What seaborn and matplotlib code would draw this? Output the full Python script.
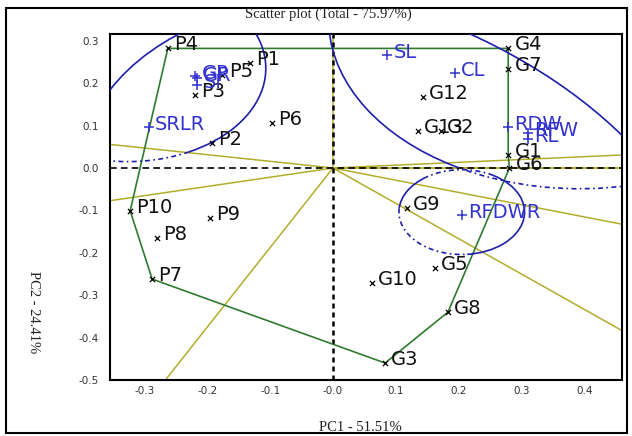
import matplotlib
matplotlib.use("Agg")
import numpy as np
import pandas as pd
import matplotlib.pyplot as plt
import seaborn as sns
from matplotlib.patches import Arc, Rectangle

# ---------------- data ----------------
title = "Scatter plot (Total - 75.97%)"
x_label = "PC1 - 51.51%"
y_label = "PC2 - 24.41%"

point_names = ["P1", "P2", "P3", "P4", "P5", "P6", "P7", "P8", "P9", "P10",
               "G1", "G2", "G3", "G4", "G5", "G6", "G7", "G8", "G9", "G10", "G12", "G13"]
point_x = [-0.132, -0.193, -0.220, -0.263, -0.176, -0.097, -0.288, -0.280, -0.196, -0.323,
           0.279, 0.172, 0.083, 0.279, 0.162, 0.281, 0.279, 0.183, 0.118, 0.062, 0.143, 0.135]
point_y = [0.248, 0.059, 0.172, 0.282, 0.219, 0.106, -0.262, -0.165, -0.118, -0.101,
           0.030, 0.087, -0.460, 0.282, -0.236, 0.000, 0.233, -0.340, -0.094, -0.271, 0.167, 0.088]

var_names = ["SL", "CL", "RDW", "RFW", "RL", "SRLR", "RFDWR", "GP", "GR", "SI"]
var_x = [0.086, 0.194, 0.279, 0.311, 0.311, -0.293, 0.205, -0.219, -0.217, -0.216]
var_y = [0.267, 0.224, 0.097, 0.083, 0.068, 0.096, -0.111, 0.216, 0.212, 0.195]

hull_names = ["P4", "G4", "G7", "G1", "G6", "G8", "G3", "P7", "P10"]

x_ticks = [-0.3, -0.2, -0.1, 0.0, 0.1, 0.2, 0.3, 0.4]
x_tick_labels = ["-0.3", "-0.2", "-0.1", "-0.0", "0.1", "0.2", "0.3", "0.4"]
y_ticks = [0.3, 0.2, 0.1, 0.0, -0.1, -0.2, -0.3, -0.4, -0.5]
y_tick_labels = ["0.3", "0.2", "0.1", "0.0", "-0.1", "-0.2", "-0.3", "-0.4", "-0.5"]

# circle arcs: centre, radius, angle range, dotted?
arc_cx = [0.0, -0.30, 0.393, 0.393, -0.327, -0.327, 0.205, 0.205, 0.205, 0.205]
arc_cy = [0.0, -0.45, 0.351, 0.351, 0.235, 0.235, -0.104, -0.104, -0.104, -0.104]
arc_r = [0.40, 0.925, 0.40, 0.40, 0.22, 0.22, 0.10, 0.10, 0.10, 0.10]
arc_t1 = [100, 30, 183, 240, -64, 255, 125, 60, -85, 175]
arc_t2 = [165, 60, 240, 282, 40, 296, 175, 125, 60, 275]
arc_dotted = [False, False, False, True, False, True, False, True, False, True]

# ---------------- style ----------------
sns.set_theme(style="white")
plt.rcParams["font.family"] = ["DejaVu Sans"]

GREEN = "#2f7a2f"
OLIVE = "#b3ad2c"
BLUE_TXT = "#3232cf"
BLUE_LN = "#1e1eaa"

pts = pd.DataFrame({"name": point_names, "x": point_x, "y": point_y})
vrs = pd.DataFrame({"name": var_names, "x": var_x, "y": var_y})

fig = plt.figure(figsize=(6.32, 4.36), dpi=100)
ax = fig.add_axes([110 / 632, 56 / 436, 512 / 632, 346 / 436])
ax.set_xlim(-0.3551, 0.4602)
ax.set_ylim(-0.5, 0.316)

# rays from origin perpendicular to the polygon sides
idx = pts.set_index("name")
hx = [idx.loc[n, "x"] for n in hull_names]
hy = [idx.loc[n, "y"] for n in hull_names]
n = len(hull_names)
for i in range(n):
    dx = hx[(i + 1) % n] - hx[i]
    dy = hy[(i + 1) % n] - hy[i]
    nx, ny = -dy, dx
    L = np.hypot(nx, ny)
    ax.plot([0, 2 * nx / L], [0, 2 * ny / L], color=OLIVE, lw=1.1, zorder=2)

# axes through origin
ax.axvline(0, color="black", lw=1.8, ls=(0, (2, 1.6)), zorder=3)
ax.axhline(0, color="black", lw=1.2, ls=(0, (4, 2.5)), zorder=3)

# polygon
ax.plot(hx + [hx[0]], hy + [hy[0]], color=GREEN, lw=1.2, zorder=4)

# circles
for cx, cy, r, t1, t2, dot in zip(arc_cx, arc_cy, arc_r, arc_t1, arc_t2, arc_dotted):
    a = Arc((cx, cy), 2 * r, 2 * r, theta1=t1, theta2=t2, color=BLUE_LN,
            lw=1.2, ls=(0, (3, 2, 1, 2)) if dot else "-", zorder=4)
    ax.add_patch(a)

# markers
sns.scatterplot(data=pts, x="x", y="y", marker="x", color="black", s=14,
                linewidth=0.9, ax=ax, zorder=5)
sns.scatterplot(data=vrs, x="x", y="y", marker="+", color=BLUE_TXT, s=45,
                linewidth=1.1, ax=ax, zorder=5)

for _, r in pts.iterrows():
    ax.annotate(r["name"], (r["x"], r["y"]), xytext=(4.5, -1.5), textcoords="offset points",
                ha="left", va="baseline", fontsize=14, color="#111111", zorder=6)
for _, r in vrs.iterrows():
    ax.annotate(r["name"], (r["x"], r["y"]), xytext=(4.5, -2), textcoords="offset points",
                ha="left", va="baseline", fontsize=14, color=BLUE_TXT, zorder=6)

ax.set_xticks(x_ticks)
ax.set_xticklabels(x_tick_labels)
ax.set_yticks(y_ticks)
ax.set_yticklabels(y_tick_labels)
ax.tick_params(axis="both", length=0, labelsize=7.5, labelcolor="#333333")
ax.tick_params(axis="x", pad=4)
ax.tick_params(axis="y", pad=8)
ax.set_xlabel("")
ax.set_ylabel("")
for s in ax.spines.values():
    s.set_color("black")
    s.set_linewidth(1.5)

serif = "Liberation Serif"
fig.text(0.52, 1 - 14 / 436, title, family=serif, fontsize=10.5, ha="center", va="center", color="#222222")
fig.text(0.57, 1 - 427 / 436, x_label, family=serif, fontsize=10.5, ha="center", va="center", color="#222222")
fig.text(33 / 632, 1 - 312 / 436, y_label, family=serif, fontsize=10.5, ha="center", va="center",
         rotation=270, color="#222222")

fig.add_artist(Rectangle((6 / 632, 3 / 436), 621 / 632, 425 / 436, transform=fig.transFigure,
                         fill=False, lw=1.5, ec="black"))

fig.savefig("out.png", dpi=100)
